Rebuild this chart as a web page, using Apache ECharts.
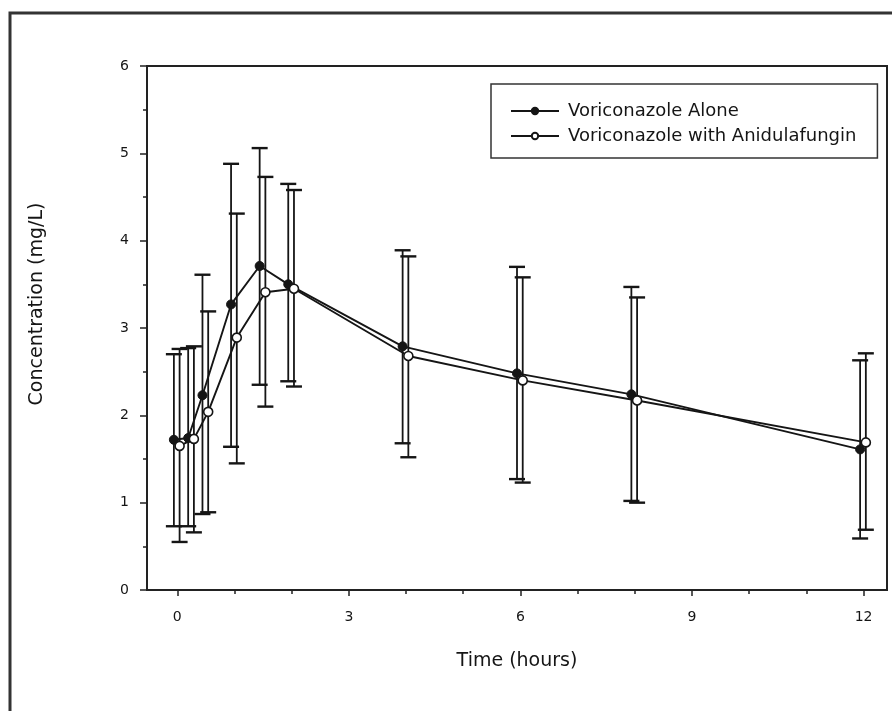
<!DOCTYPE html>
<html><head><meta charset="utf-8">
<script src="https://cdn.jsdelivr.net/npm/echarts@6/dist/echarts.min.js"></script>
<style>html,body{margin:0;padding:0;background:#fff}#c{width:892px;height:711px}</style>
</head><body><div id="c"></div>
<script>
// Time points (hours)
const times = [0, 0.25, 0.5, 1, 1.5, 2, 4, 6, 8, 12];
// Voriconazole Alone: mean, upper and lower error bar ends (mg/L)
const aloneMean  = [1.72, 1.74, 2.23, 3.27, 3.71, 3.50, 2.79, 2.48, 2.24, 1.61];
const aloneUpper = [2.70, 2.77, 3.61, 4.88, 5.06, 4.65, 3.89, 3.70, 3.47, 2.63];
const aloneLower = [0.73, 0.73, 0.87, 1.64, 2.35, 2.39, 1.68, 1.27, 1.02, 0.59];
// Voriconazole with Anidulafungin
const withMean  = [1.65, 1.73, 2.04, 2.89, 3.41, 3.45, 2.68, 2.40, 2.17, 1.69];
const withUpper = [2.76, 2.79, 3.19, 4.31, 4.73, 4.58, 3.82, 3.58, 3.35, 2.71];
const withLower = [0.55, 0.66, 0.89, 1.45, 2.10, 2.33, 1.52, 1.23, 1.00, 0.69];
// Axis ticks
const xMajorTicks = [0, 3, 6, 9, 12];
const xMinorTicks = [1, 2, 4, 5, 7, 8, 10, 11];
const seriesNames = ['Voriconazole Alone', 'Voriconazole with Anidulafungin'];

const offAlone = -0.06, offWith = 0.04; // small horizontal dodge between groups
const FONT = 'DejaVu Sans';
const INK = '#151515';

function pts(mean, off) { return times.map((t, i) => [t + off, mean[i]]); }
function bars(lo, hi, off) { return times.map((t, i) => [t + off, lo[i], hi[i]]); }

function errRender(params, api) {
  const x = api.value(0), lo = api.value(1), hi = api.value(2);
  const pLo = api.coord([x, lo]), pHi = api.coord([x, hi]);
  const hw = 8;
  return {
    type: 'group',
    children: [
      { type: 'line', shape: { x1: pLo[0], y1: pLo[1], x2: pHi[0], y2: pHi[1] }, style: { stroke: INK, lineWidth: 1.8 } },
      { type: 'line', shape: { x1: pLo[0] - hw, y1: pLo[1], x2: pLo[0] + hw, y2: pLo[1] }, style: { stroke: INK, lineWidth: 2.4 } },
      { type: 'line', shape: { x1: pHi[0] - hw, y1: pHi[1], x2: pHi[0] + hw, y2: pHi[1] }, style: { stroke: INK, lineWidth: 2.4 } }
    ]
  };
}

const chart = echarts.init(document.getElementById('c'), null, { renderer: 'canvas' });
const xMin = -0.53, xMax = 12.41;
chart.setOption({
  animation: false,
  backgroundColor: '#fff',
  textStyle: { fontFamily: FONT },
  grid: { left: 147, right: 5, top: 66, bottom: 121, show: true, borderColor: '#222', borderWidth: 2, backgroundColor: 'transparent' },
  graphic: [
    { type: 'rect', z: -10, shape: { x: 10, y: 13, width: 1000, height: 1000 }, style: { fill: 'none', stroke: '#333', lineWidth: 3 } },
    { type: 'text', x: 37, y: 304, rotation: Math.PI / 2,
      style: { text: 'Concentration (mg/L)', font: '19px "DejaVu Sans"', fill: INK, align: 'center', verticalAlign: 'middle' } }
  ],
  legend: {
    data: seriesNames,
    orient: 'vertical',
    left: 491, top: 84,
    padding: [18, 21, 13, 19],
    itemGap: 7,
    itemWidth: 48, itemHeight: 8,
    borderColor: '#333', borderWidth: 1.5,
    textStyle: { fontFamily: FONT, fontSize: 18, color: INK, padding: [0, 0, 0, 4] }
  },
  xAxis: [
    {
      type: 'value', min: xMin, max: xMax, position: 'bottom',
      name: 'Time (hours)', nameLocation: 'middle', nameGap: 62,
      nameTextStyle: { fontFamily: FONT, fontSize: 19, color: INK },
      axisLine: { show: true, onZero: false, lineStyle: { color: '#222', width: 2 } },
      axisTick: { show: true, length: 6, customValues: xMajorTicks, lineStyle: { color: '#222', width: 1.5 } },
      axisLabel: { show: true, customValues: xMajorTicks, margin: 20, fontFamily: FONT, fontSize: 14, color: INK },
      splitLine: { show: false }
    },
    {
      type: 'value', min: xMin, max: xMax, position: 'bottom',
      axisLine: { show: false, onZero: false },
      axisTick: { show: true, length: 4, customValues: xMinorTicks, lineStyle: { color: '#222', width: 1.5 } },
      axisLabel: { show: false },
      splitLine: { show: false }
    }
  ],
  yAxis: {
    type: 'value', min: 0, max: 6, interval: 1,
    axisLine: { show: true, onZero: false, lineStyle: { color: '#222', width: 2 } },
    axisTick: { show: true, length: 7, lineStyle: { color: '#222', width: 1.5 } },
    minorTick: { show: true, splitNumber: 2, length: 4, lineStyle: { color: '#222', width: 1.5 } },
    axisLabel: { margin: 18, fontFamily: FONT, fontSize: 14, color: INK },
    splitLine: { show: false }
  },
  series: [
    { type: 'custom', name: 'errAlone', xAxisIndex: 0, renderItem: errRender, data: bars(aloneLower, aloneUpper, offAlone), z: 2, silent: true },
    { type: 'custom', name: 'errWith', xAxisIndex: 0, renderItem: errRender, data: bars(withLower, withUpper, offWith), z: 2, silent: true },
    {
      type: 'line', name: seriesNames[0], xAxisIndex: 0, data: pts(aloneMean, offAlone), z: 5,
      symbol: 'circle', symbolSize: 9, showSymbol: true,
      lineStyle: { color: INK, width: 1.9 },
      itemStyle: { color: INK, borderColor: INK, borderWidth: 1 }
    },
    {
      type: 'line', name: seriesNames[1], xAxisIndex: 0, data: pts(withMean, offWith), z: 6,
      symbol: 'circle', symbolSize: 9, showSymbol: true,
      lineStyle: { color: INK, width: 1.9 },
      itemStyle: { color: '#fff', borderColor: INK, borderWidth: 1.6 }
    }
  ]
});
</script>
</body></html>
